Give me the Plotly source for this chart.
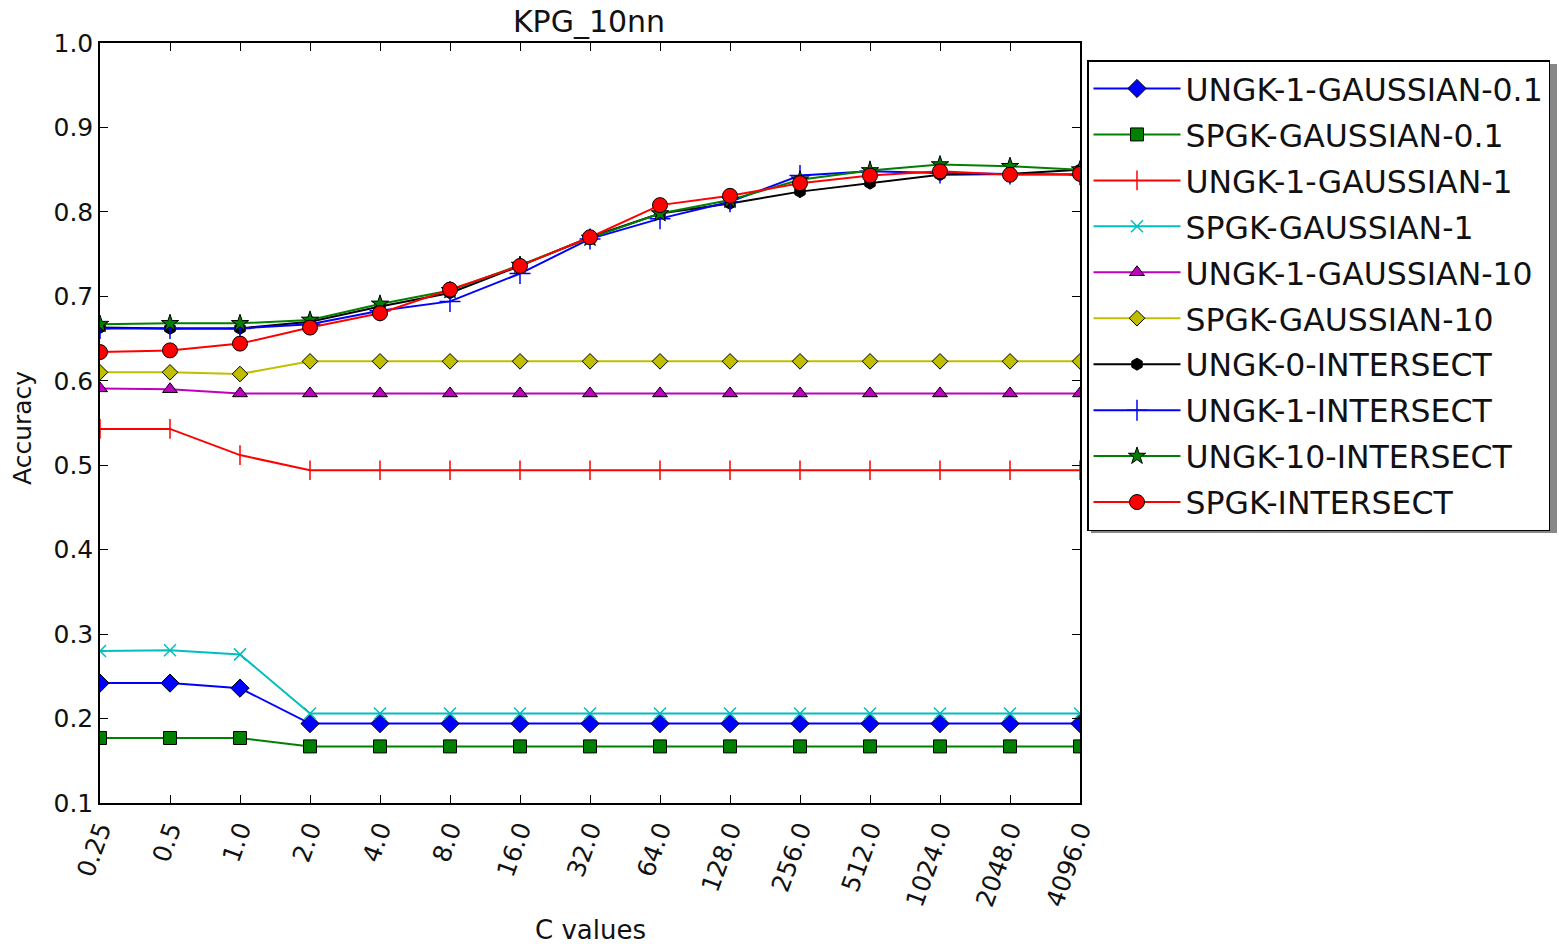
import plotly.graph_objects as go

c_values = ["0.25", "0.5", "1.0", "2.0", "4.0", "8.0", "16.0", "32.0", "64.0",
            "128.0", "256.0", "512.0", "1024.0", "2048.0", "4096.0"]

ungk1_gaussian_01 = [0.242, 0.242, 0.236, 0.194, 0.194, 0.194, 0.194, 0.194, 0.194, 0.194, 0.194, 0.194, 0.194, 0.194, 0.194]
spgk_gaussian_01 = [0.177, 0.177, 0.177, 0.167, 0.167, 0.167, 0.167, 0.167, 0.167, 0.167, 0.167, 0.167, 0.167, 0.167, 0.167]
ungk1_gaussian_1 = [0.543, 0.543, 0.512, 0.494, 0.494, 0.494, 0.494, 0.494, 0.494, 0.494, 0.494, 0.494, 0.494, 0.494, 0.494]
spgk_gaussian_1 = [0.280, 0.281, 0.276, 0.206, 0.206, 0.206, 0.206, 0.206, 0.206, 0.206, 0.206, 0.206, 0.206, 0.206, 0.206]
ungk1_gaussian_10 = [0.591, 0.590, 0.585, 0.585, 0.585, 0.585, 0.585, 0.585, 0.585, 0.585, 0.585, 0.585, 0.585, 0.585, 0.585]
spgk_gaussian_10 = [0.610, 0.610, 0.608, 0.623, 0.623, 0.623, 0.623, 0.623, 0.623, 0.623, 0.623, 0.623, 0.623, 0.623, 0.623]
ungk0_intersect = [0.663, 0.662, 0.662, 0.670, 0.688, 0.704, 0.736, 0.770, 0.798, 0.810, 0.824, 0.834, 0.844, 0.845, 0.850]
ungk1_intersect = [0.662, 0.662, 0.662, 0.667, 0.683, 0.694, 0.727, 0.768, 0.792, 0.812, 0.843, 0.848, 0.846, 0.845, 0.844]
ungk10_intersect = [0.667, 0.668, 0.668, 0.672, 0.691, 0.707, 0.737, 0.769, 0.798, 0.814, 0.838, 0.849, 0.856, 0.854, 0.850]
spgk_intersect = [0.634, 0.636, 0.644, 0.663, 0.680, 0.708, 0.736, 0.770, 0.808, 0.819, 0.834, 0.843, 0.848, 0.844, 0.845]

y_ticks = [0.1, 0.2, 0.3, 0.4, 0.5, 0.6, 0.7, 0.8, 0.9, 1.0]

series = [
    ("UNGK-1-GAUSSIAN-0.1", ungk1_gaussian_01, "#0000FF", "diamond", 14, True),
    ("SPGK-GAUSSIAN-0.1", spgk_gaussian_01, "#008000", "square", 13, True),
    ("UNGK-1-GAUSSIAN-1", ungk1_gaussian_1, "#FF0000", "line-ns", 14, False),
    ("SPGK-GAUSSIAN-1", spgk_gaussian_1, "#00BFBF", "x-thin", 12, False),
    ("UNGK-1-GAUSSIAN-10", ungk1_gaussian_10, "#BF00BF", "triangle-up", 13, True),
    ("SPGK-GAUSSIAN-10", spgk_gaussian_10, "#BFBF00", "diamond", 12, True),
    ("UNGK-0-INTERSECT", ungk0_intersect, "#000000", "hexagon", 12, True),
    ("UNGK-1-INTERSECT", ungk1_intersect, "#0000FF", "cross-thin", 15, False),
    ("UNGK-10-INTERSECT", ungk10_intersect, "#008000", "star", 13, True),
    ("SPGK-INTERSECT", spgk_intersect, "#FF0000", "circle", 15, True),
]

font_family = "DejaVu Sans"
fig = go.Figure()
for i, (name, vals, color, symbol, size, filled) in enumerate(series):
    if filled:
        marker = dict(symbol=symbol, size=size, color=color,
                      line=dict(color="#000000", width=1))
    else:
        marker = dict(symbol=symbol, size=size, color=color,
                      line=dict(color=color, width=1.5))
    fig.add_trace(go.Scatter(
        x=c_values, y=vals, name=name, mode="lines+markers",
        line=dict(color=color, width=2), marker=marker,
        legendgroup="g%d" % i,
    ))

axis_common = dict(
    showgrid=False, zeroline=False, showline=True, linecolor="black",
    linewidth=1.5, mirror="ticks", ticks="inside", ticklen=8,
    tickcolor="black", tickwidth=1,
    tickfont=dict(family=font_family, size=25, color="#111111"),
)

# plot area in screen pixels: x 100..1080, y 43..803
def px(sx):
    return (sx - 100) / 980.0

def py(sy):
    return (803 - sy) / 760.0

fig.update_layout(
    width=1559, height=944,
    paper_bgcolor="white", plot_bgcolor="white",
    margin=dict(l=100, r=479, t=43, b=141, autoexpand=False),
    title=dict(text="KPG_10nn", x=589 / 1559, xanchor="center",
               y=1 - 21 / 944, yanchor="middle",
               font=dict(family=font_family, size=30, color="#111111")),
    font=dict(family=font_family, color="#111111"),
    xaxis=dict(type="category", categoryorder="array", categoryarray=c_values,
               range=[0, 14], tickangle=-70, **axis_common),
    yaxis=dict(range=[0.1, 1.0], tickvals=y_ticks, tickformat=".1f",
               **axis_common),
    legend=dict(x=px(1087), xanchor="left", y=py(60), yanchor="top",
                bgcolor="white", bordercolor="black", borderwidth=1.5,
                font=dict(family=font_family, size=31.5, color="#111111"),
                tracegroupgap=2, itemwidth=87),
    showlegend=True,
    annotations=[
        dict(text="C values", xref="paper", yref="paper", x=px(590), y=py(930),
             xanchor="center", yanchor="middle", showarrow=False,
             font=dict(family=font_family, size=26, color="#111111")),
        dict(text="Accuracy", xref="paper", yref="paper", x=px(22), y=py(428),
             xanchor="center", yanchor="middle", showarrow=False, textangle=-90,
             font=dict(family=font_family, size=25, color="#111111")),
    ],
)

# legend drop shadow
fig.add_shape(type="rect", xref="paper", yref="paper",
              x0=px(1091), x1=px(1557), y0=py(533), y1=py(64),
              fillcolor="#888888", line=dict(width=0), layer="below")

fig.write_html("out.html", config={"displayModeBar": False},
               post_script="document.body.style.margin='0px';document.body.style.overflow='hidden';")
